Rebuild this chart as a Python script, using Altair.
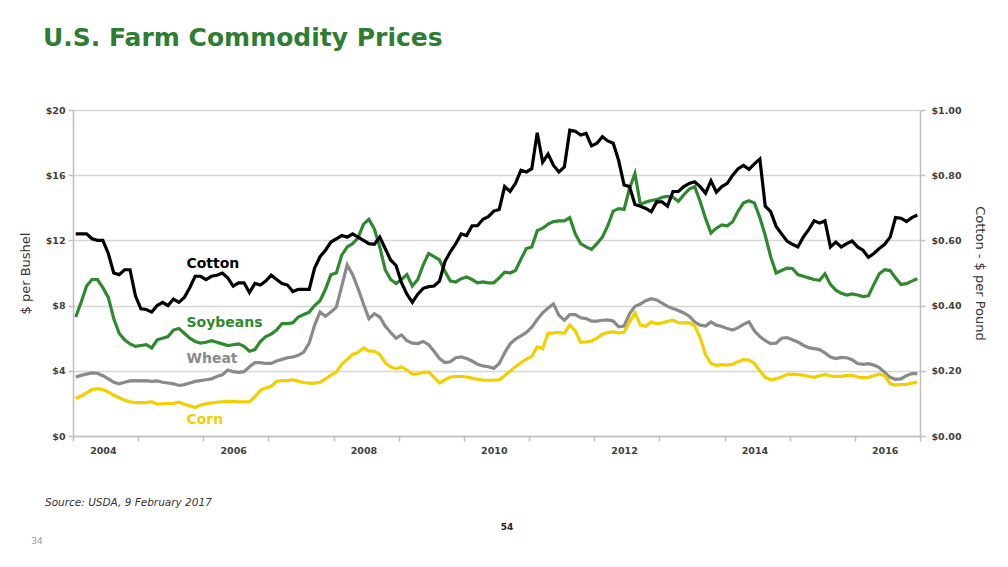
import altair as alt
import pandas as pd

# ---------------- data (monthly, Jan 2004 - Dec 2016) ----------------
MONTHS = pd.date_range("2004-01-01", periods=156, freq="MS")
YEAR_LABELS = ["2004", "2006", "2008", "2010", "2012", "2014", "2016"]

# Cotton, $ per pound (right axis)
COTTON = [
    0.620, 0.620, 0.620, 0.605, 0.600, 0.600, 0.560, 0.500, 0.495, 0.510, 0.510, 0.430,
    0.390, 0.388, 0.380, 0.400, 0.410, 0.400, 0.420, 0.410, 0.425, 0.455, 0.490, 0.490,
    0.480, 0.490, 0.493, 0.500, 0.485, 0.460, 0.470, 0.470, 0.440, 0.468, 0.463, 0.475,
    0.493, 0.480, 0.468, 0.463, 0.443, 0.450, 0.450, 0.450, 0.515, 0.550, 0.570, 0.595,
    0.605, 0.615, 0.610, 0.620, 0.610, 0.600, 0.590, 0.588, 0.610, 0.575, 0.540, 0.523,
    0.470, 0.435, 0.410, 0.435, 0.453, 0.458, 0.460, 0.475, 0.535, 0.565, 0.590, 0.620,
    0.615, 0.645, 0.645, 0.665, 0.673, 0.690, 0.695, 0.765, 0.750, 0.775, 0.815, 0.810,
    0.820, 0.930, 0.840, 0.865, 0.830, 0.810, 0.825, 0.938, 0.935, 0.923, 0.928, 0.890,
    0.898, 0.918, 0.905, 0.898, 0.845, 0.770, 0.765, 0.710, 0.705, 0.698, 0.688, 0.718,
    0.718, 0.705, 0.750, 0.750, 0.765, 0.775, 0.780, 0.765, 0.745, 0.783, 0.748, 0.765,
    0.775, 0.800, 0.820, 0.830, 0.818, 0.835, 0.850, 0.705, 0.688, 0.643, 0.620, 0.598,
    0.588, 0.580, 0.610, 0.633, 0.660, 0.653, 0.660, 0.580, 0.595, 0.580, 0.590, 0.598,
    0.580, 0.570, 0.548, 0.560, 0.575, 0.588, 0.610, 0.670, 0.668, 0.658, 0.670, 0.678,
]

# $ per bushel (left axis)
SOYBEANS = [
    7.30, 8.20, 9.20, 9.60, 9.60, 9.10, 8.50, 7.20, 6.30, 5.90, 5.65, 5.50,
    5.55, 5.60, 5.40, 5.90, 6.00, 6.10, 6.50, 6.60, 6.30, 6.00, 5.80, 5.70,
    5.75, 5.85, 5.75, 5.65, 5.55, 5.60, 5.65, 5.50, 5.20, 5.30, 5.80, 6.10,
    6.25, 6.50, 6.90, 6.90, 6.95, 7.30, 7.45, 7.60, 8.00, 8.30, 9.00, 9.90,
    10.00, 11.10, 11.60, 11.80, 12.15, 13.00, 13.30, 12.70, 11.60, 10.20, 9.60, 9.35,
    9.60, 9.90, 9.20, 9.60, 10.50, 11.20, 11.00, 10.80, 10.10, 9.50, 9.45, 9.65,
    9.75, 9.60, 9.40, 9.45, 9.40, 9.40, 9.70, 10.05, 10.00, 10.15, 10.85, 11.50,
    11.60, 12.60, 12.75, 13.00, 13.15, 13.20, 13.20, 13.40, 12.40, 11.80, 11.60, 11.45,
    11.80, 12.20, 12.90, 13.80, 13.95, 13.90, 15.20, 16.10, 14.20, 14.35, 14.45, 14.50,
    14.65, 14.70, 14.65, 14.40, 14.80, 15.15, 15.30, 14.40, 13.35, 12.45, 12.75, 12.95,
    12.90, 13.15, 13.80, 14.30, 14.43, 14.30, 13.40, 12.30, 11.00, 10.00, 10.15, 10.30,
    10.28, 9.90, 9.80, 9.70, 9.60, 9.55, 9.95, 9.30, 8.95, 8.75, 8.65, 8.72,
    8.65, 8.55, 8.60, 9.30, 9.95, 10.20, 10.15, 9.70, 9.30, 9.35, 9.50, 9.65,
]

WHEAT = [
    3.62, 3.72, 3.80, 3.87, 3.85, 3.70, 3.50, 3.30, 3.20, 3.30, 3.38, 3.40,
    3.38, 3.40, 3.35, 3.38, 3.30, 3.25, 3.20, 3.10, 3.15, 3.25, 3.35, 3.40,
    3.45, 3.50, 3.65, 3.75, 4.05, 3.95, 3.90, 3.95, 4.25, 4.50, 4.50, 4.45,
    4.45, 4.60, 4.70, 4.80, 4.85, 4.95, 5.15, 5.70, 6.80, 7.60, 7.35, 7.60,
    7.90, 9.20, 10.50, 9.90, 9.05, 8.10, 7.20, 7.50, 7.30, 6.75, 6.35, 6.00,
    6.20, 5.85, 5.70, 5.67, 5.80, 5.60, 5.20, 4.75, 4.50, 4.55, 4.80, 4.85,
    4.75, 4.60, 4.40, 4.30, 4.25, 4.15, 4.45, 5.10, 5.65, 5.95, 6.15, 6.35,
    6.68, 7.15, 7.55, 7.85, 8.10, 7.40, 7.10, 7.45, 7.45, 7.25, 7.20, 7.05,
    7.05, 7.10, 7.12, 7.05, 6.70, 6.75, 7.50, 7.95, 8.10, 8.30, 8.42, 8.35,
    8.15, 7.95, 7.82, 7.70, 7.55, 7.35, 7.00, 6.80, 6.75, 7.00, 6.80, 6.72,
    6.60, 6.50, 6.65, 6.85, 7.00, 6.45, 6.10, 5.85, 5.67, 5.70, 6.00, 6.04,
    5.90, 5.77, 5.57, 5.42, 5.36, 5.30, 5.10, 4.85, 4.75, 4.82, 4.80, 4.68,
    4.45, 4.40, 4.44, 4.35, 4.20, 3.90, 3.60, 3.48, 3.50, 3.70, 3.83, 3.83,
]

CORN = [
    2.30, 2.45, 2.65, 2.85, 2.90, 2.85, 2.70, 2.50, 2.35, 2.20, 2.10, 2.05,
    2.05, 2.05, 2.10, 1.95, 1.98, 1.99, 2.00, 2.07, 1.95, 1.85, 1.75, 1.90,
    1.97, 2.03, 2.07, 2.10, 2.13, 2.12, 2.09, 2.09, 2.10, 2.40, 2.80, 2.95,
    3.05, 3.35, 3.40, 3.40, 3.45, 3.35, 3.28, 3.25, 3.25, 3.30, 3.50, 3.73,
    3.93, 4.40, 4.70, 5.00, 5.13, 5.40, 5.20, 5.20, 5.00, 4.50, 4.24, 4.13,
    4.24, 4.05, 3.80, 3.82, 3.90, 3.93, 3.60, 3.25, 3.45, 3.62, 3.65, 3.65,
    3.62, 3.55, 3.48, 3.43, 3.42, 3.42, 3.45, 3.70, 3.98, 4.25, 4.50, 4.72,
    4.88, 5.47, 5.36, 6.30, 6.33, 6.36, 6.30, 6.80, 6.45, 5.75, 5.77, 5.83,
    6.00, 6.25, 6.35, 6.39, 6.33, 6.36, 7.00, 7.55, 6.80, 6.73, 7.00, 6.88,
    6.94, 7.04, 7.10, 6.95, 6.94, 6.95, 6.75, 6.05, 5.00, 4.45, 4.34, 4.38,
    4.35, 4.40, 4.55, 4.68, 4.66, 4.45, 4.00, 3.60, 3.46, 3.50, 3.62, 3.78,
    3.79, 3.76, 3.73, 3.65, 3.60, 3.70, 3.78, 3.68, 3.66, 3.66, 3.70, 3.73,
    3.62, 3.58, 3.60, 3.70, 3.80, 3.70, 3.20, 3.12, 3.16, 3.17, 3.24, 3.32,
]

SERIES = ["Cotton", "Soybeans", "Wheat", "Corn"]
COLORS = ["#000000", "#2f8a2f", "#8a8a8a", "#f2d000"]

TITLE = "U.S. Farm Commodity Prices"
SOURCE = "Source: USDA, 9 February 2017"

# ---------------- tables ----------------
n = len(MONTHS)
pos = [i + 0.5 for i in range(n)]  # each month centred in its category slot

left_rows = []
for name, vals in [("Wheat", WHEAT), ("Corn", CORN), ("Soybeans", SOYBEANS)]:
    for p, m, v in zip(pos, MONTHS, vals):
        left_rows.append({"series": name, "idx": p, "month": m, "value": v})
df_left = pd.DataFrame(left_rows)
df_cotton = pd.DataFrame({"idx": pos, "month": MONTHS, "cotton": COTTON})

# in-chart series labels (x in month slots, y in $/bushel)
df_labels = pd.DataFrame({
    "series": ["Cotton", "Soybeans", "Wheat", "Corn"],
    "idx": [20.9, 20.9, 20.9, 20.9],
    "value": [10.3, 6.7, 4.5, 0.75],
})

# ---------------- styling ----------------
FONT = "DejaVu Sans"
AXIS_GREY = "#bfbfbf"
LABEL_COLOR = "#404040"

x_values = [12 * k for k in range(14)] + [5.5 + 24 * k for k in range(7)]
label_expr = ("datum.value % 12 === 0 ? '' : ["
              + ",".join("'%s'" % y for y in YEAR_LABELS)
              + "][floor(datum.value / 24)]")

x_enc = alt.X(
    "idx:Q",
    scale=alt.Scale(domain=[0, n], nice=False, zero=False),
    axis=alt.Axis(
        values=x_values, labelExpr=label_expr, title=None, grid=False,
        domainColor=AXIS_GREY, domainWidth=1.5,
        tickColor=AXIS_GREY, tickWidth=1.5, tickSize=5,
        tickOpacity={"condition": {"test": "datum.value % 12 === 0", "value": 1}, "value": 0},
        labelFont=FONT, labelFontSize=9.5, labelFontWeight="bold", labelColor=LABEL_COLOR,
        labelPadding=4, labelOverlap=False, labelFlush=False, labelBound=False,
    ),
)

left_axis = alt.Axis(
    values=[0, 4, 8, 12, 16, 20], labelExpr="'$' + datum.value",
    grid=True, gridColor="#d6d6d6", gridWidth=1.5,
    domainColor=AXIS_GREY, domainWidth=1.5, tickColor=AXIS_GREY, tickWidth=1.5, tickSize=5,
    labelFont=FONT, labelFontSize=9.5, labelFontWeight="bold", labelColor=LABEL_COLOR,
    labelPadding=3,
    title="$ per Bushel", titleFont=FONT, titleFontSize=13, titleFontWeight="normal",
    titleColor="#333333", titlePadding=13,
)
y_left = alt.Y("value:Q", scale=alt.Scale(domain=[0, 20], nice=False), axis=left_axis)

color_enc = alt.Color("series:N", scale=alt.Scale(domain=SERIES, range=COLORS), legend=None)

left_lines = alt.Chart(df_left).mark_line(strokeWidth=3.2).encode(
    x=x_enc, y=y_left, color=color_enc, detail="series:N"
)
labels = alt.Chart(df_labels).mark_text(
    font=FONT, fontSize=14, fontWeight="bold", align="left", baseline="alphabetic"
).encode(x=x_enc, y=y_left, color=color_enc, text="series:N")

left_group = alt.layer(left_lines, labels)

cotton_line = alt.Chart(df_cotton).mark_line(strokeWidth=3.2, color="#000000").encode(
    x=x_enc,
    y=alt.Y(
        "cotton:Q",
        scale=alt.Scale(domain=[0, 1], nice=False),
        axis=alt.Axis(
            orient="right", values=[0, 0.2, 0.4, 0.6, 0.8, 1.0], format="$.2f", grid=False,
            domainColor=AXIS_GREY, domainWidth=1.5, tickColor=AXIS_GREY, tickWidth=1.5, tickSize=5,
            labelFont=FONT, labelFontSize=9.5, labelFontWeight="bold", labelColor=LABEL_COLOR,
            labelPadding=6,
            title="Cotton - $ per Pound", titleFont=FONT, titleFontSize=13,
            titleFontWeight="normal", titleColor="#333333", titlePadding=11,
        ),
    ),
)


def note(text, x, y, **kw):
    return alt.Chart(pd.DataFrame({"t": [text]})).mark_text(font=FONT, **kw).encode(
        x=alt.value(x), y=alt.value(y), text="t:N"
    )


title = note(TITLE, -30, -64, fontSize=25, fontWeight="bold", color="#2e7d32",
             align="left", baseline="alphabetic")
source = note(SOURCE, -28, 393, fontSize=10.5, fontStyle="italic", color="#333333",
              align="left", baseline="middle")
page_a = note("54", 434, 417, fontSize=9, fontWeight="bold", color="#222222",
              align="center", baseline="middle")
page_b = note("34", -36, 431, fontSize=9, color="#9a9a9a", align="center", baseline="middle")

chart = (
    alt.layer(left_group, cotton_line, title, source, page_a, page_b)
    .resolve_scale(y="independent")
    .properties(
        width=847, height=326,
        autosize=alt.AutoSizeParams(type="none"),
        padding={"left": 65, "top": 102, "right": 80, "bottom": 123},
        background="white",
    )
    .configure_view(stroke=None)
)

chart.save("out.html", embed_options={"renderer": "svg", "actions": False})
